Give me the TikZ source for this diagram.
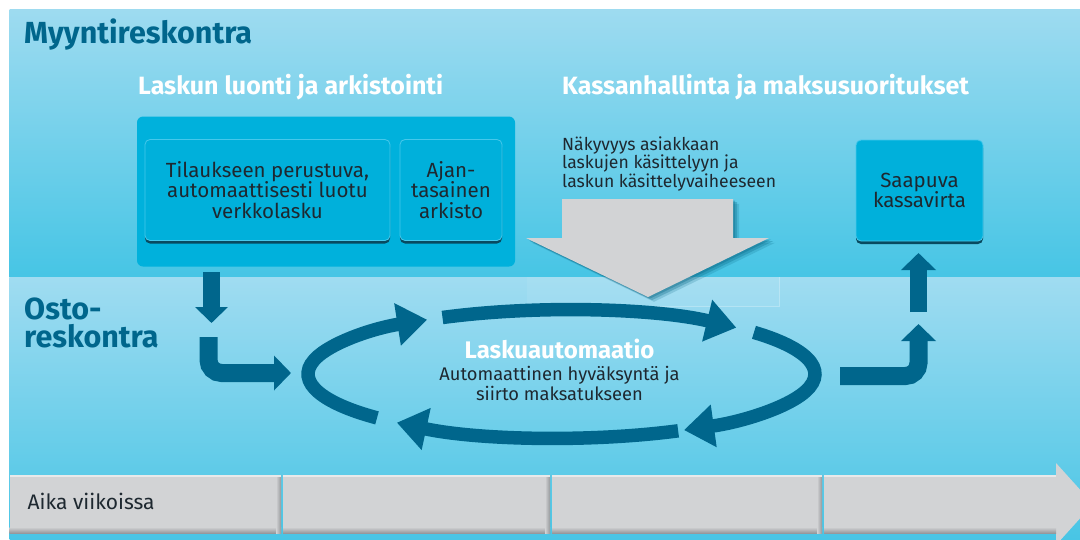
\documentclass[tikz,border=0pt]{standalone}
\usepackage{fontspec}
\setmainfont{Fira Sans}
\usetikzlibrary{arrows.meta,shadows,calc}
\definecolor{bgtop}{RGB}{158,219,240}
\definecolor{bgbot}{RGB}{70,197,229}
\definecolor{lowtop}{RGB}{160,220,241}
\definecolor{lowbot}{RGB}{72,197,229}
\definecolor{cont}{RGB}{0,177,220}
\definecolor{boxc}{RGB}{0,176,219}
\definecolor{boxhi}{RGB}{70,200,235}
\definecolor{boxsh}{RGB}{8,74,96}
\definecolor{darkb}{RGB}{0,102,140}
\definecolor{txt}{RGB}{30,40,48}
\definecolor{gray1}{RGB}{210,211,213}
\definecolor{grayd}{RGB}{150,152,155}
\definecolor{grayl}{RGB}{232,233,234}
\definecolor{tealsh}{RGB}{8,104,134}
\begin{document}
\begin{tikzpicture}[x=1pt,y=-1pt,
  ttl/.style={font=\bfseries\fontsize{30.5}{28}\selectfont, text=darkb, inner sep=0pt, anchor=base west, align=left},
  sub/.style={font=\bfseries\fontsize{25}{26}\selectfont, text=white, inner sep=0pt, anchor=base west},
  boxtxt/.style={font=\fontsize{20.5}{20.5}\selectfont, text=txt, align=center},
  innerbox/.style={rectangle, rounded corners=5pt, fill=boxc, draw=boxhi, line width=0.8pt,
     drop shadow={shadow xshift=0pt, shadow yshift=-3pt, fill=boxsh, opacity=1}, boxtxt},
  cyc/.style={draw=darkb, line width=13.5pt, -{Triangle[length=30pt,width=41pt]}},
  fat/.style={draw=darkb, line width=17pt, -{Triangle[length=17pt,width=34pt]}}
]
\useasboundingbox (0,0) rectangle (1080,539);
\clip (0,0) rectangle (1080,539);
\fill[white] (0,0) rectangle (1080,539);
% panels
\fill[top color=bgtop, bottom color=bgbot] (9.6,9.3) rectangle (1080,277);
\fill[top color=lowtop, bottom color=lowbot] (9.6,277) rectangle (1080,539);
% light box behind the gray arrow tip
\fill[white, opacity=0.07] (527,277) rectangle (779,306);
\draw[white, opacity=0.3, line width=0.6pt] (527,306) -- (779,306) -- (779,277);

% titles
\node[ttl] (t1) at (24,43) {Myyntireskontra};
\node[ttl] (t2) at (24,347) {Osto-\\reskontra};
\node[sub] (s1) at (138,94) {Laskun luonti ja arkistointi};
\node[sub] (s2) at (562,94) {Kassanhallinta ja maksusuoritukset};

% container and boxes
\node[rectangle, rounded corners=6pt, fill=cont, minimum width=378pt, minimum height=150pt, inner sep=0pt] (cont) at (326,191.5) {};
\node[innerbox, minimum width=245pt, minimum height=101pt] (b1) at (267.5,190) {Tilaukseen perustuva,\\automaattisesti luotu\\verkkolasku};
\node[innerbox, minimum width=102pt, minimum height=101pt] (b2) at (451,190) {Ajan-\\tasainen\\arkisto};
\node[innerbox, minimum width=127pt, minimum height=101pt] (sk) at (919.5,190.5) {Saapuva\\kassavirta};

% visibility text and gray arrow
\node[font=\fontsize{17.6}{16.5}\selectfont, text=txt, align=left, inner sep=0pt, anchor=base west] (vis) at (562,187)
  {Näkyvyys asiakkaan\\laskujen käsittelyyn ja\\laskun käsittelyvaiheeseen};
\foreach \d/\o in {2/0.35,4/0.3,6/0.2}{
  \fill[tealsh, opacity=\o, shift={(\d,\d*0.8)}] (562,199) -- (733,199) -- (733,238) -- (769,238) -- (648,297) -- (526,238) -- (562,238) -- cycle;
}
\fill[gray1] (562,199) -- (733,199) -- (733,238) -- (769,238) -- (648,297) -- (526,238) -- (562,238) -- cycle;

% cycle
\coordinate (E) at (561.5,374);
\draw[cyc] ($(E)+(136.7:253.5 and 64)$) arc[start angle=136.7, end angle=238, x radius=253.5, y radius=64];
\draw[cyc] ($(E)+(242:253.5 and 64)$) arc[start angle=242, end angle=313.6, x radius=253.5, y radius=64];
\draw[cyc] ($(E)+(319.4:253.5 and 64)$) arc[start angle=319.4, end angle=421.1, x radius=253.5, y radius=64];
\draw[cyc] ($(E)+(62.6:253.5 and 64)$) arc[start angle=62.6, end angle=130.5, x radius=253.5, y radius=64];

\node[font=\bfseries\fontsize{24}{24}\selectfont, text=white, inner sep=0pt, anchor=base] (la) at (559.5,358) {Laskuautomaatio};
\node[font=\fontsize{18.3}{20}\selectfont, text=txt, inner sep=0pt, anchor=base, align=center] (ld) at (559.5,400) {Automaattinen hyväksyntä ja\\siirto maksatukseen};

% left arrows
\coordinate (d1) at (211.5,272);
\coordinate (d2) at (211.5,323);
\draw[fat, -{Triangle[length=16pt,width=32pt]}] (d1) -- (d2);
\coordinate (l1) at (208.5,337);
\coordinate (l2) at (291,373);
\draw[fat, line width=18pt, rounded corners=13pt] (l1) |- (l2);

% right arrows
\coordinate (r1) at (840,376);
\coordinate (r2) at (918.5,324);
\draw[fat, line width=18pt, rounded corners=13pt] (r1) -| (r2);
\coordinate (u1) at (918.5,312);
\coordinate (u2) at (918.5,253);
\draw[fat] (u1) -- (u2);

% timeline
\foreach \a/\b in {9.6/281,283/550,552/822}{
  \fill[gray1] (\a,475) rectangle (\b,533);
  \fill[top color=gray1, bottom color=grayd] (\a,527) rectangle (\b,533);
  \fill[left color=gray1, right color=grayd] (\b-5,475) rectangle (\b,533);
  \fill[grayl] (\a,475) rectangle (\b,477);
}
\fill[gray1] (824,475) -- (1056,475) -- (1056,463) -- (1093,504) -- (1056,545) -- (1056,533) -- (824,533) -- cycle;
\fill[top color=gray1, bottom color=grayd] (824,527) rectangle (1056,533);
\fill[grayl] (824,475) rectangle (1056,477);
\node[font=\fontsize{21}{22}\selectfont, text=txt, inner sep=0pt, anchor=base west] (aika) at (27.5,509) {Aika viikoissa};
\end{tikzpicture}
\end{document}
